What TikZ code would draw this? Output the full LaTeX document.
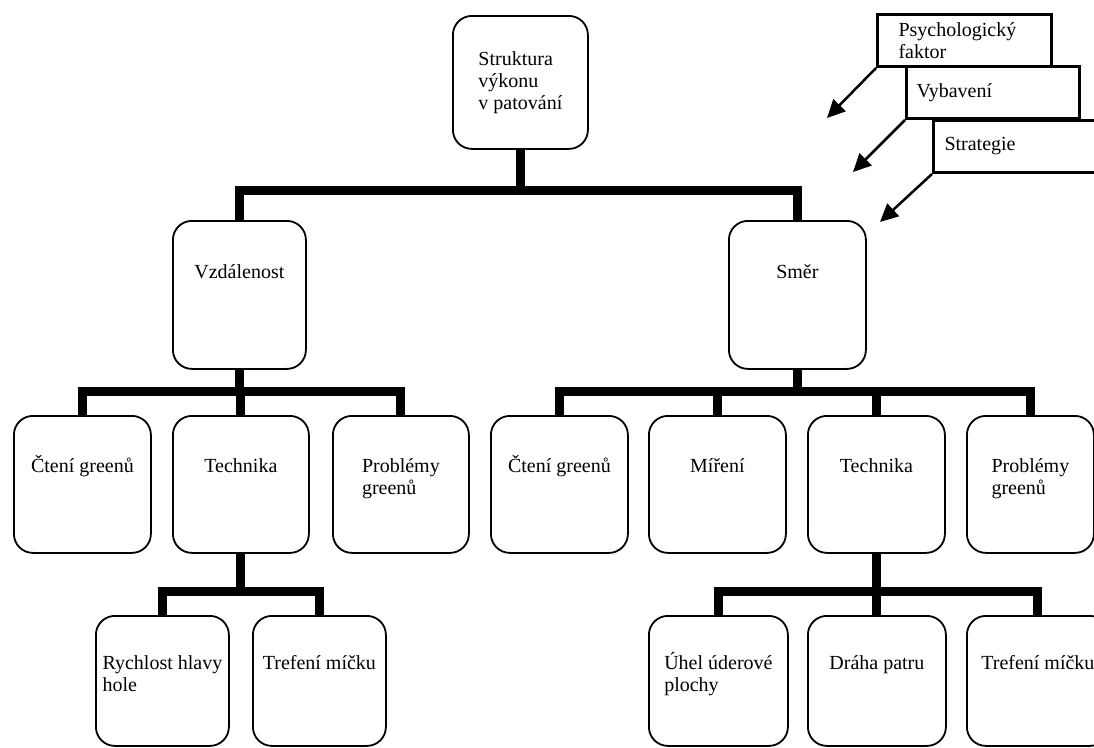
\documentclass[tikz,border=0pt]{standalone}
\usepackage{fontspec}
\setmainfont{Liberation Serif}
\usetikzlibrary{arrows.meta}

\begin{document}
\begin{tikzpicture}[x=1pt, y=-1pt,
    font=\fontsize{20}{22}\selectfont,
    card/.style={draw, rounded corners=19pt, line width=1.8pt, anchor=north west,
                 align=left, inner sep=0pt, text height=14pt, text depth=#1},
    card/.default=37pt,
    duo/.style={text height=36pt, text depth=15pt},
    tag/.style={draw, line width=3pt, anchor=north west, align=left,
                minimum height=52pt},
    bus/.style={line width=9pt, line join=miter},
    hint/.style={line width=2.5pt, -{Triangle[length=18pt,width=17pt]}}]
    \useasboundingbox (0,0) rectangle (1094,747);

    \node[card, text height=, text depth=, minimum width=135pt, minimum height=133pt] (root) at (452,15) {Struktura\\výkonu\\v patování};
    \node[card=46pt, minimum width=133pt, minimum height=148pt] (dist) at (172,220) {Vzdálenost};
    \node[card=46pt, minimum width=137pt, minimum height=148pt] (dir)  at (728,220) {Směr};

    \node[card, minimum width=137pt, minimum height=137pt] (readA)  at (13,415)  {Čtení greenů};
    \node[card, minimum width=136pt, minimum height=137pt] (techA)  at (172,415) {Technika};
    \node[card, duo, minimum width=136pt, minimum height=137pt] (probA) at (332,415) {Problémy\\greenů};
    \node[card, minimum width=137pt, minimum height=137pt] (readB)  at (490,415) {Čtení greenů};
    \node[card, minimum width=137pt, minimum height=137pt] (aimB)   at (648,415) {Míření};
    \node[card, minimum width=137pt, minimum height=137pt] (techB)  at (807,415) {Technika};
    \node[card, duo, minimum width=127pt, minimum height=137pt] (probB) at (966,415) {Problémy\\greenů};

    \node[card, duo, minimum width=133pt, minimum height=130pt] (speedA) at (95,615) {Rychlost hlavy\\hole};
    \node[card, minimum width=133pt, minimum height=130pt] (hitA)   at (252,615) {Trefení míčku};
    \node[card, duo, minimum width=139pt, minimum height=130pt] (faceB) at (648,615) {Úhel úderové\\plochy};
    \node[card, minimum width=138pt, minimum height=130pt] (pathB)  at (807,615) {Dráha patru};
    \node[card, minimum width=142pt, minimum height=130pt] (hitB)   at (966,615) {Trefení míčku};

    \node[tag, minimum width=174pt, text width=132pt, inner xsep=21pt] (psych) at (876,13)  {Psychologický\\faktor};
    \node[tag, minimum width=173pt, text width=153pt, inner xsep=10pt] (gear)  at (905,65)  {Vybavení};
    \node[tag, minimum width=175pt, text width=153pt, inner xsep=11pt] (plan)  at (932,119) {Strategie};

    % levels of the horizontal bars
    \coordinate (lvlA) at (0,190);
    \coordinate (lvlB) at (0,391);
    \coordinate (lvlC) at (0,591);

    \foreach \a/\b/\l in {root/dist/lvlA, root/dir/lvlA,
                          dist/readA/lvlB, dist/techA/lvlB, dist/probA/lvlB,
                          dir/readB/lvlB, dir/aimB/lvlB, dir/techB/lvlB, dir/probB/lvlB,
                          techA/speedA/lvlC, techA/hitA/lvlC,
                          techB/faceB/lvlC, techB/pathB/lvlC, techB/hitB/lvlC}
      \draw[bus] (\a.south) -- (\a.south |- \l) -| (\b.north);

    \coordinate (aimP) at (827,118);
    \coordinate (aimG) at (853,172);
    \coordinate (aimS) at (880,222);
    \foreach \a/\b in {psych/aimP, gear/aimG, plan/aimS}
      \draw[hint] (\a.south west) -- (\b);
\end{tikzpicture}
\end{document}
